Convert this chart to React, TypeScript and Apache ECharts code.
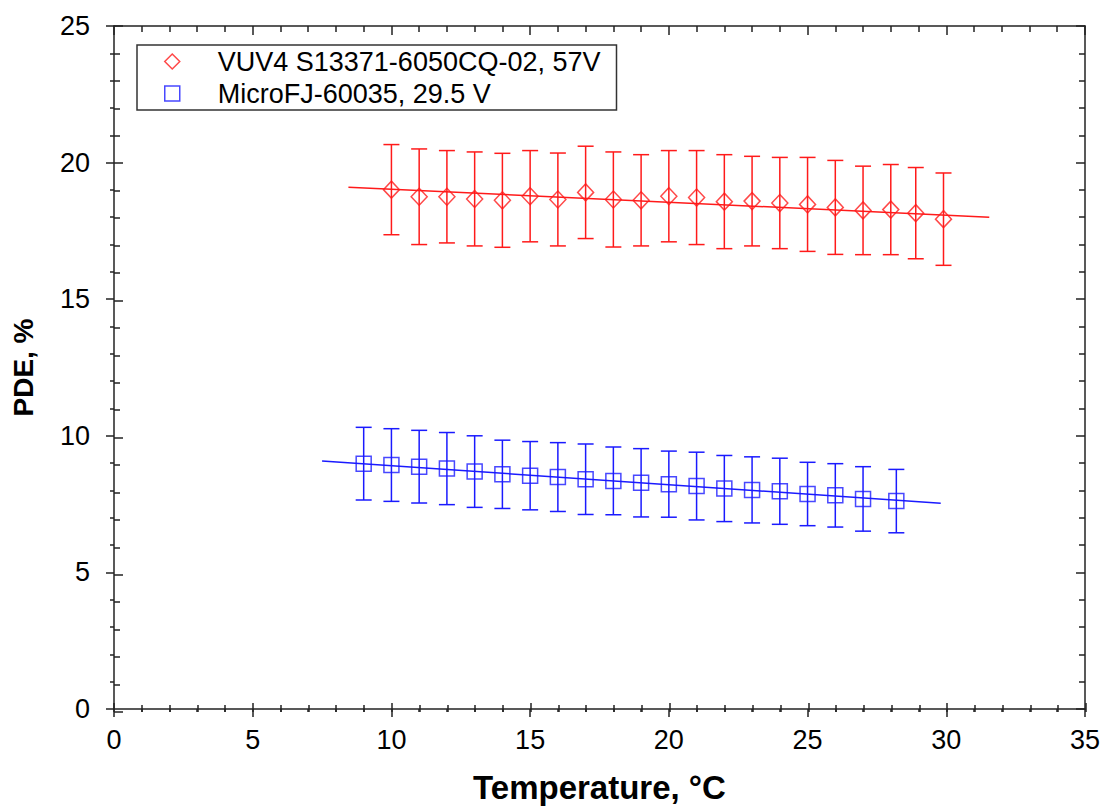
import React, { useEffect, useRef } from "react";
import * as echarts from "echarts";

const redName = "VUV4 S13371-6050CQ-02, 57V";
const blueName = "MicroFJ-60035, 29.5 V";

const redTemp = [10, 11, 12, 13, 14, 15, 16, 17, 18, 19, 20, 21, 22, 23, 24, 25, 26, 27, 28, 28.9, 29.9];
const redPDE = [19.01, 18.75, 18.75, 18.67, 18.62, 18.77, 18.65, 18.91, 18.65, 18.62, 18.77, 18.72, 18.57, 18.59, 18.52, 18.47, 18.36, 18.25, 18.28, 18.15, 17.93];
const redErr = [1.65, 1.75, 1.69, 1.72, 1.72, 1.67, 1.7, 1.69, 1.74, 1.67, 1.67, 1.72, 1.72, 1.64, 1.67, 1.72, 1.72, 1.62, 1.65, 1.67, 1.69];

const blueTemp = [9, 10, 11, 12, 13, 14, 15, 16, 17, 18, 19, 20, 21, 22, 23, 24, 25, 26, 27, 28.2];
const bluePDE = [8.98, 8.93, 8.87, 8.8, 8.69, 8.59, 8.54, 8.49, 8.41, 8.35, 8.28, 8.23, 8.16, 8.07, 8.02, 7.97, 7.87, 7.82, 7.69, 7.61];
const blueErr = [1.33, 1.33, 1.33, 1.32, 1.31, 1.25, 1.25, 1.26, 1.29, 1.24, 1.25, 1.21, 1.24, 1.21, 1.21, 1.21, 1.16, 1.16, 1.18, 1.16];

const redFitT = [8.45, 31.55];
const redFitV = [19.1, 18.0];
const blueFitT = [7.5, 29.8];
const blueFitV = [9.08, 7.53];

const RED = "#ff1a1a";
const BLUE = "#1a1aff";
const AXIS = "#222";
const FONT = "'Liberation Sans', Arial, sans-serif";

function errorSeries(t: number[], v: number[], e: number[], color: string) {
  return {
    type: "custom",
    xAxisIndex: 0,
    yAxisIndex: 0,
    silent: true,
    data: t.map((x, i) => [x, v[i], e[i]]),
    renderItem: (params: any, api: any) => {
      const x = api.value(0);
      const y = api.value(1);
      const err = api.value(2);
      const top = api.coord([x, y + err]);
      const bot = api.coord([x, y - err]);
      const hw = 8;
      const style = { stroke: color, lineWidth: 1.5 };
      return {
        type: "group",
        children: [
          { type: "line", shape: { x1: top[0], y1: top[1], x2: bot[0], y2: bot[1] }, style },
          { type: "line", shape: { x1: top[0] - hw, y1: top[1], x2: top[0] + hw, y2: top[1] }, style },
          { type: "line", shape: { x1: bot[0] - hw, y1: bot[1], x2: bot[0] + hw, y2: bot[1] }, style },
        ],
      };
    },
  };
}

export default function App() {
  const ref = useRef<HTMLDivElement>(null);
  useEffect(() => {
    if (!ref.current) return;
    const chart = echarts.init(ref.current, undefined, { renderer: "svg" });
    const baseX = { type: "value", min: 0, max: 35, interval: 5 };
    const baseY = { type: "value", min: 0, max: 25, interval: 5 };
    const noLine = { show: false };
    const ls = { color: AXIS, width: 1.5 };
    const gridPos = { left: 114, right: 17, top: 26, bottom: 97, containLabel: false };
    chart.setOption({
      animation: false,
      backgroundColor: "#fff",
      textStyle: { fontFamily: FONT },
      grid: [gridPos, gridPos],
      legend: {
        orient: "vertical",
        left: 137,
        top: 45,
        padding: [3, 16, 3, 27],
        itemGap: 5,
        itemWidth: 15,
        itemHeight: 15,
        borderColor: "#333",
        borderWidth: 1.5,
        backgroundColor: "#fff",
        textStyle: { fontSize: 27, color: "#000", fontFamily: FONT, lineHeight: 26, padding: [0, 0, 0, 33] },
        data: [
          { name: redName, icon: "diamond", itemStyle: { color: "transparent", borderColor: RED, borderWidth: 1.5 } },
          { name: blueName, icon: "rect", itemStyle: { color: "transparent", borderColor: BLUE, borderWidth: 1.5 } },
        ],
      },
      xAxis: [
        {
          ...baseX,
          gridIndex: 0,
          position: "bottom",
          name: "Temperature, °C",
          nameLocation: "middle",
          nameGap: 62,
          nameTextStyle: { fontSize: 33, fontWeight: "bold", color: "#000", fontFamily: FONT },
          axisLine: { show: true, onZero: false, lineStyle: ls },
          axisTick: { show: true, inside: false, length: 8, lineStyle: ls },
          minorTick: { show: true, splitNumber: 5, length: 3, lineStyle: ls },
          axisLabel: { fontSize: 27, color: "#000", margin: 17, fontFamily: FONT },
          splitLine: noLine,
        },
        {
          ...baseX,
          gridIndex: 0,
          position: "top",
          axisLine: { show: true, onZero: false, lineStyle: ls },
          axisTick: { show: true, inside: true, length: 9, lineStyle: ls },
          minorTick: { show: true, splitNumber: 5, length: 6, lineStyle: ls },
          axisLabel: { show: false },
          splitLine: noLine,
        },
        {
          ...baseX,
          gridIndex: 1,
          position: "bottom",
          axisLine: { show: false, onZero: false },
          axisTick: { show: true, inside: true, length: 9, lineStyle: ls },
          minorTick: { show: true, splitNumber: 5, length: 7, lineStyle: ls },
          axisLabel: { show: false },
          splitLine: noLine,
        },
      ],
      yAxis: [
        {
          ...baseY,
          gridIndex: 0,
          position: "left",
          name: "PDE, %",
          nameLocation: "middle",
          nameGap: 77,
          nameRotate: 90,
          nameTextStyle: { fontSize: 28, fontWeight: "bold", color: "#000", fontFamily: FONT },
          axisLine: { show: true, onZero: false, lineStyle: ls },
          axisTick: { show: true, inside: false, length: 8, lineStyle: ls },
          minorTick: { show: true, splitNumber: 5, length: 4, lineStyle: ls },
          axisLabel: { fontSize: 27, color: "#000", margin: 24, fontFamily: FONT },
          splitLine: noLine,
        },
        {
          ...baseY,
          gridIndex: 0,
          position: "right",
          axisLine: { show: true, onZero: false, lineStyle: ls },
          axisTick: { show: true, inside: true, length: 9, lineStyle: ls },
          minorTick: { show: true, splitNumber: 5, length: 6, lineStyle: ls },
          axisLabel: { show: false },
          splitLine: noLine,
        },
        {
          ...baseY,
          gridIndex: 1,
          position: "left",
          axisLine: { show: false, onZero: false },
          axisTick: { show: true, inside: true, length: 9, lineStyle: ls },
          minorTick: { show: true, splitNumber: 5, length: 6, lineStyle: ls },
          axisLabel: { show: false },
          splitLine: noLine,
        },
      ],
      series: [
        {
          type: "line",
          name: "redFit",
          xAxisIndex: 0,
          yAxisIndex: 0,
          data: redFitT.map((x, i) => [x, redFitV[i]]),
          showSymbol: false,
          symbol: "none",
          lineStyle: { color: RED, width: 1.5 },
          silent: true,
        },
        {
          type: "line",
          name: "blueFit",
          xAxisIndex: 0,
          yAxisIndex: 0,
          data: blueFitT.map((x, i) => [x, blueFitV[i]]),
          showSymbol: false,
          symbol: "none",
          lineStyle: { color: BLUE, width: 1.5 },
          silent: true,
        },
        errorSeries(redTemp, redPDE, redErr, RED),
        errorSeries(blueTemp, bluePDE, blueErr, BLUE),
        {
          type: "scatter",
          name: redName,
          xAxisIndex: 0,
          yAxisIndex: 0,
          symbol: "diamond",
          symbolSize: [16, 17],
          itemStyle: { color: "transparent", borderColor: RED, borderWidth: 1.5 },
          data: redTemp.map((x, i) => [x, redPDE[i]]),
        },
        {
          type: "scatter",
          name: blueName,
          xAxisIndex: 0,
          yAxisIndex: 0,
          symbol: "rect",
          symbolSize: 15,
          itemStyle: { color: "transparent", borderColor: BLUE, borderWidth: 1.5 },
          data: blueTemp.map((x, i) => [x, bluePDE[i]]),
        },
      ],
    });
    return () => chart.dispose();
  }, []);
  return (
    <div
      ref={ref}
      style={{ position: "absolute", left: 0, top: 0, width: 1103, height: 809 }}
    />
  );
}
